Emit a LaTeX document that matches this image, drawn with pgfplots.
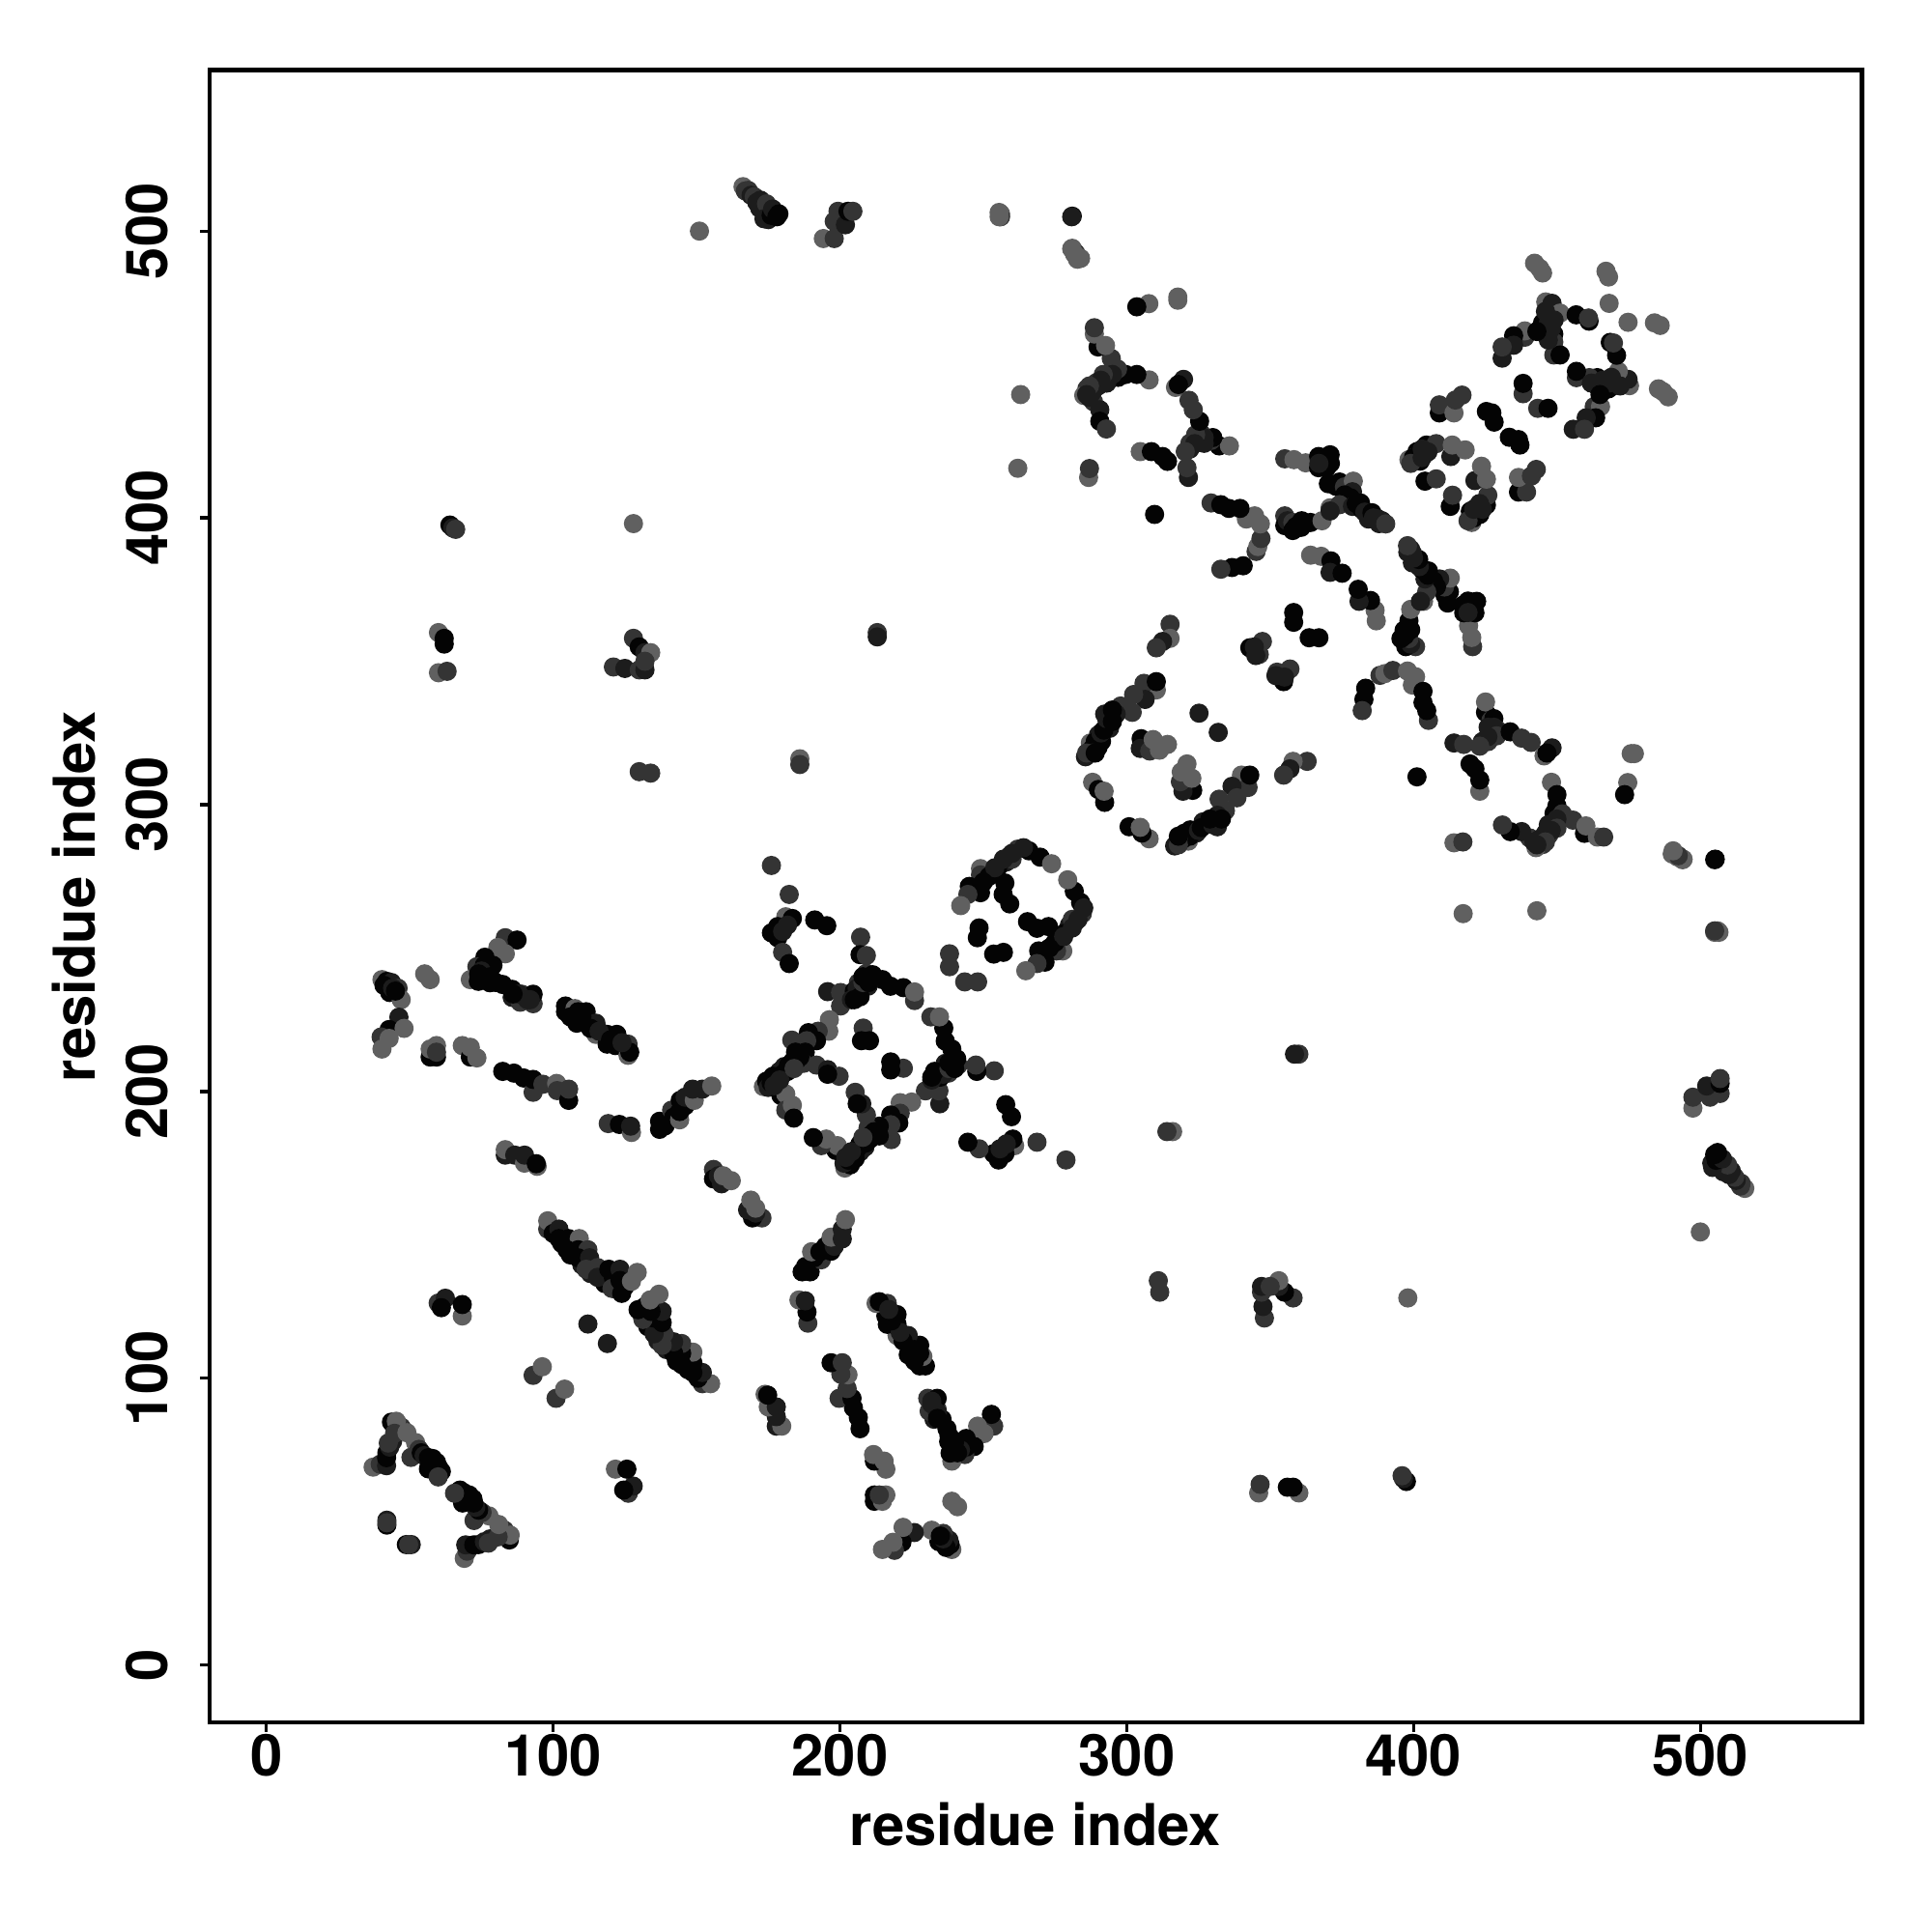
\documentclass[border=0pt]{standalone}
\usepackage{fontspec}
\setmainfont{TeX Gyre Heros}
\usepackage{pgfplots}
\usepackage{pgfplotstable}
\pgfplotsset{compat=1.18}
\pgfplotstableread[row sep=\\]{
i j c\\
40.3 239 3\\ 42 238.4 0\\ 43.6 238 1\\ 45.9 236 2\\ 43 234.5 0\\ 47 232 3\\ 46.2 225.9 1\\ 42.8 221.6 0\\ 48 222 3\\ 40 219 2\\ 42.8 218.5 3\\ 40.3 214.8 3\\
41 237 0\\ 44 236 1\\ 45 235 0\\
55.2 241 3\\ 57.1 239 3\\
83.3 253.6 2\\ 87.4 252.8 0\\ 80.7 250.2 3\\ 83.3 248 3\\ 76.2 246.8 0\\ 73.4 243.5 2\\ 79 244 0\\ 71.1 239 3\\ 73.9 238.4 0\\ 77.9 237.9 0\\ 82.4 237.3 0\\ 85.7 235.6 0\\ 89.1 233.9 2\\ 85.7 232.8 1\\ 88.5 231.1 2\\ 93 230.6 2\\ 93 233.9 0\\
76 244 0\\ 75 242 1\\ 78 240 0\\ 74 241 0\\ 80 238 0\\ 88 234 1\\ 91 232 1\\ 75 239 0\\ 92 232 1\\ 86 234 0\\
104.3 229.8 0\\ 104.3 227.8 0\\ 107.6 228.9 3\\ 108.7 227.8 0\\ 111.5 227.8 0\\ 108.2 223.8 0\\ 111.5 224.4 0\\ 114.9 223.8 1\\ 114.9 219.9 3\\ 118.8 219.9 0\\ 122.2 219.9 0\\ 118.8 216.5 0\\ 121.7 216 0\\ 126.1 212.6 3\\ 126.1 216.5 2\\ 126.7 213.7 0\\
106 226 0\\ 110 226 0\\ 113 222 0\\ 116 221 1\\ 120 218 0\\ 124 217 1\\
57.1 212 0\\ 59.3 212 0\\ 59.3 216 3\\ 57.1 214.8 3\\ 59.3 213.7 2\\
68.3 216 3\\ 71.1 212 0\\ 71.1 215.4 3\\ 73.4 211.7 3\\
82.4 207 0\\ 86.3 206.4 0\\ 89.7 204.7 0\\ 93 199.7 2\\ 93 204.2 0\\ 96.4 202.5 2\\ 101.2 202.8 3\\ 101.4 200.3 2\\ 105.4 196.9 0\\ 105.4 200.8 2\\
119.2 188.8 2\\ 123.1 188.5 0\\ 127.3 185.7 3\\ 127 187.9 1\\
137.1 186.8 0\\ 137.1 189.6 0\\ 139 188 0\\ 141.3 193.5 2\\ 142 191 0\\ 144.1 190.1 3\\ 144.1 193 0\\ 146 195 0\\ 144.3 196.9 0\\ 146 198 1\\ 149.2 196.9 3\\ 148.6 200.8 1\\ 152 200.8 1\\ 155.3 201.9 3\\
83.3 177.8 1\\ 83.3 179.7 3\\ 86.6 177.8 1\\ 90 175 3\\ 90 177.8 1\\ 94.4 173.9 3\\ 94.1 174.8 0\\
155.9 172.8 2\\ 155.9 169.5 0\\ 158.7 167.8 1\\ 157.6 170.6 1\\ 159.3 170.6 3\\ 162.1 168.9 3\\
98.1 152 2\\ 98.1 154.9 3\\ 100 150.5 0\\ 102 152 1\\ 102 148.7 0\\ 103 147 0\\ 105.4 148.7 0\\ 106 146 0\\ 106 143 0\\ 109.1 148.7 3\\ 104.8 144.8 0\\ 108.7 144.8 0\\ 110 141 0\\ 110 139.5 1\\ 112.1 144.8 2\\ 108.7 142 0\\ 112.7 142 1\\ 113 136.5 1\\ 117 136 0\\ 118 133 0\\ 111.5 138 2\\ 115.5 138.6 2\\ 115.5 135.2 1\\ 119.4 138 0\\ 121 135 0\\ 122 131 1\\ 123.3 138 1\\ 120.5 131.3 2\\ 125 132 0\\ 123.3 134.1 0\\ 123.9 129.6 0\\ 127.3 133.8 3\\ 129.3 136.9 3\\
112.1 118.9 1\\ 93 101 2\\ 96.2 104 3\\
37.2 69 3\\ 39.7 70 2\\ 41.9 69.5 1\\ 41.9 72.3 0\\ 42 74 0\\ 43 76 1\\ 44 78 1\\ 42.5 77.4 2\\ 43.6 84.7 0\\ 46 82 2\\ 47 83 2\\ 45.3 85 3\\ 44.7 80.8 2\\ 49 81 3\\ 52 77.6 3\\ 50.4 72.4 2\\ 53.2 75.2 2\\ 54 74 0\\ 55 73 1\\ 56.5 72.3 0\\ 57 70 0\\ 58 72 0\\ 60 69 0\\ 59.3 70.7 0\\ 56.5 68.4 0\\ 61 67.5 0\\ 59.9 65.6 2\\
42 48.8 0\\ 42 50.5 1\\ 42 49.6 2\\
59.9 126.2 2\\ 62.4 127.9 1\\ 61 124.6 0\\ 68.3 121.7 3\\ 68.3 125.7 0\\
176.1 278.8 2\\ 182.3 268.7 2\\ 181.1 260.9 3\\ 183.4 260.3 0\\ 178.3 257.5 0\\ 176.1 255.3 0\\ 181.7 258 1\\ 178.3 253.6 0\\ 180 255.8 1\\ 180 248.5 2\\ 182.3 244.6 0\\ 191.2 259.8 0\\ 195.4 257.8 0\\
207.2 253.8 2\\ 207 247.7 0\\ 209.2 247.4 2\\ 209.2 241.2 2\\ 206.4 237.9 2\\ 211.4 240.7 0\\ 214.8 239 0\\ 205.3 233.4 0\\ 207.5 235.6 2\\ 209.8 236.7 1\\ 217.6 236.7 0\\ 222.1 236.2 0\\ 226 231.7 2\\ 226 234.7 3\\ 195.7 234.8 1\\ 200.2 234.5 2\\ 200.2 229.8 2\\ 203 234 2\\
205 235 0\\ 206 236 1\\ 207 233 0\\ 208 238 2\\ 210 238 0\\ 204 232 1\\ 208 240 0\\ 205 232 0\\
196.3 225 3\\ 196.1 221 3\\ 192.4 221 2\\ 189 220.5 0\\ 191.8 217.7 0\\ 183.2 217.9 2\\ 188.4 217.7 2\\ 187.9 213.7 0\\ 184.5 213.7 0\\ 187.3 209.8 2\\ 191.8 209.2 2\\ 183.4 210.4 0\\ 180.6 208.7 1\\ 178.9 207 1\\ 181.7 207 0\\ 176.6 205.3 0\\ 173.3 201.7 3\\ 174.4 203.6 0\\ 177.8 204.2 1\\ 175 201.4 1\\ 179.4 198.6 0\\ 181.1 199.1 3\\ 181.1 193.5 2\\ 183.4 195.2 3\\ 183.9 190.7 0\\
176 203 0\\ 178 205 0\\ 180 206 0\\ 182 209 0\\ 185 211 0\\ 186 212 0\\ 179 204 1\\ 177 202 1\\ 184 208 2\\
195.7 207.6 1\\ 199.7 205.3 2\\ 195.7 206 0\\
208.1 222.1 2\\ 207.5 217.7 0\\ 210.3 217.7 0\\
262 284.5 2\\ 265.9 283.9 0\\ 269.8 281.7 0\\ 273.8 279.4 3\\ 259.2 282.2 2\\ 256.4 279.4 2\\ 253.5 276.6 0\\ 249 277.7 3\\ 249 275.5 2\\ 245.1 271.5 0\\ 249 269.3 0\\ 244.6 268.7 2\\ 242.1 264.8 3\\ 257.5 272.7 0\\ 256.9 268.7 0\\ 259.2 265.4 0\\
258 280 1\\ 260 281 2\\ 255 278 0\\ 257 281 1\\ 252 275 0\\ 254 278 1\\ 250 273 0\\ 264 285 1\\ 260 283 1\\
248.5 257 0\\ 247.9 253.6 0\\ 238.2 243.5 2\\ 238.2 248 2\\
315.1 362.9 2\\ 315.1 358 3\\ 312.5 356.9 1\\ 310.3 354.7 2\\
310.3 340 3\\ 306 342.3 2\\ 310.3 342.9 0\\ 306.4 336.7 1\\ 302.4 338.4 2\\ 301.9 332.2 2\\ 297.9 334.4 2\\ 296.3 331.6 1\\ 292.3 331.6 1\\ 293.5 328.3 1\\ 294 326.6 1\\ 291.2 322.1 0\\ 290.1 324.3 1\\ 287.3 321.5 3\\ 287.8 319.3 0\\ 285.6 316.7 1\\
289 322 0\\ 290 320 0\\ 291 325 1\\ 292 326 0\\ 293 330 1\\ 288 318 1\\ 295 329 0\\ 286 318 2\\ 295 333 0\\ 289 318 0\\
325.2 331.9 1\\
305 323 0\\ 304.7 319.6 1\\ 308 318.7 2\\ 309.2 322.7 3\\ 311.4 319 3\\ 314.2 321 3\\
288.1 307.8 3\\ 290.1 305.3 0\\ 292.3 300.8 0\\ 292.1 304.7 3\\
347.3 356.9 2\\ 342.9 354.7 0\\ 346.2 352.4 2\\ 345 352 1\\ 344.5 355 1\\
358.2 367 0\\ 358.2 363.6 0\\
383.3 340.6 0\\ 382.7 336.7 0\\ 382.1 332.8 2\\ 388.3 345.1 2\\ 390 345.7 3\\ 392.8 346.8 2\\ 397.9 346.6 3\\ 399.6 341.7 3\\ 400.7 344.6 3\\ 403.3 339.5 0\\ 403.3 335.6 0\\ 405.2 329.4 2\\ 404.6 332.8 0\\
414.1 321.5 1\\ 417.5 321 2\\ 401.2 309.7 0\\ 414.1 286.7 3\\ 417.2 287 2\\ 417.3 262 3\\ 443 263 3\\
442.2 488.8 3\\ 444 487 3\\ 445 485.4 3\\ 467.1 486 3\\ 468 484 3\\ 468.2 474.8 3\\
446.1 475.3 3\\ 448.3 474.8 1\\ 447.8 470.8 2\\ 451.1 471.4 3\\ 444.4 466.3 0\\ 446.6 466.9 0\\ 448.9 464.1 0\\ 448.9 461.3 2\\ 448.9 456.8 2\\ 451.1 456.8 0\\ 438.8 463 2\\ 438.8 465.2 3\\ 434.9 463.5 0\\ 434.9 460.2 1\\ 430.9 455.7 1\\ 430.9 459.6 2\\
445 468 0\\ 447 468 1\\ 446 464 0\\ 448 466 1\\ 447 462 1\\ 449 469 1\\ 446 472 1\\ 443 465 0\\
456.7 470.8 0\\ 461.2 468.6 0\\ 461 469.7 2\\
438.2 443.3 2\\ 438.2 446.9 0\\ 427.3 436.6 0\\ 425.4 437.1 0\\ 428.1 433.4 0\\
409 436.6 0\\ 409 439.4 2\\ 414.1 436.6 3\\ 414.6 441.1 2\\ 416.9 442.8 2\\
398.4 420.3 3\\ 401.2 423.1 0\\ 404.5 425.4 0\\ 402.3 419.8 0\\ 407.9 425.9 2\\ 413 421.4 1\\ 413.5 425.4 3\\ 418 423.7 3\\ 400 421 2\\
400 421 0\\ 402 422 0\\ 403 424 1\\ 405 423 1\\ 399 419 2\\ 403 421 1\\
404 412.8 0\\ 407.9 413.6 2\\
355.1 420.6 2\\ 358.3 420.3 3\\ 362.4 419.2 3\\ 366.9 421.4 0\\ 370.9 422 0\\ 366.9 417.5 0\\ 369.7 417.5 0\\ 368 420 0\\ 368 418 0\\ 371 419 0\\ 367 419 1\\ 370.3 411.9 0\\ 374.2 412.5 0\\ 373 411 0\\ 375.9 410.8 2\\ 378 411 2\\ 379 412.8 3\\ 378.7 409.1 1\\ 376 408 0\\ 378 407 0\\ 370.9 403.5 3\\ 374.2 404.6 2\\ 378.7 404 1\\ 380 405 0\\ 381.5 405.2 0\\ 382 403 0\\ 383 402 1\\ 384.3 399.6 1\\ 385.5 401.8 0\\ 386 400 1\\ 387.7 399.6 1\\ 388 398 1\\ 389 399 1\\ 390.3 397.9 2\\
355.1 400.7 2\\ 355.1 397.3 0\\ 356 399 1\\ 357.9 398.4 2\\ 357.9 395.6 0\\ 359 397 0\\ 361 399 0\\ 360.8 396.7 0\\ 364.1 398.4 0\\ 368.1 399 3\\ 370.9 402.4 1\\
364.1 387 3\\ 367.8 386.6 3\\ 371.2 385 0\\ 370.9 381 1\\ 375.1 380.7 0\\
425.1 332.2 0\\ 425.1 335.8 3\\ 427 329.4 2\\ 428 330 0\\ 429.3 326 2\\ 428 327 1\\ 427 325 1\\ 426 327 1\\ 429 324 2\\ 424 322 1\\ 426 322 2\\ 425.9 323.7 1\\ 423.1 320.4 2\\ 433.7 325.4 0\\ 437.7 323.2 2\\ 441 321.7 2\\ 445.5 317 3\\ 448.3 319.8 1\\ 446.5 318 0\\
419.7 314.2 0\\ 421.4 312.5 0\\ 423.1 304.7 3\\ 423.1 308.6 0\\
448.1 307.8 3\\ 450 303.5 0\\ 450 299.6 0\\ 449 297 0\\ 451.9 296.8 2\\ 455.6 294.6 2\\ 459.6 290 0\\ 460.1 292.6 3\\ 449.5 294.6 0\\ 450 295 1\\ 447 293 1\\ 450 291.8 2\\ 447.2 289.5 2\\ 445 286.1 2\\ 442.7 285 3\\ 440.5 288.4 2\\ 442 287 1\\ 444 288 1\\ 446 290 1\\ 448 291 1\\ 446 287 2\\ 443 286 1\\ 437.7 290.6 1\\ 433.7 290.6 0\\ 431 292.9 2\\ 464.1 288.7 3\\ 466.3 288.7 2\\
474.7 307.7 3\\ 473.6 303.5 0\\ 475.9 317.8 3\\ 477 317.8 3\\
490.2 282.8 3\\ 492 281.8 3\\ 493.8 280.8 3\\ 505 280.8 1\\ 505 255.5 3\\ 506.5 255.5 3\\
64 397.5 0\\ 65 396.5 1\\ 66 396 2\\ 60 360 3\\ 62 358 0\\ 62 356 0\\ 60 346 3\\ 63 346.5 2\\ 128 398 3\\
128 358 2\\ 130 355 0\\ 132 353 1\\ 134 353 3\\ 121 348 2\\ 125 347.5 1\\ 130 347 2\\ 132 347 1\\ 132 350 2\\ 130 311.5 2\\ 134 311 2\\ 186 316 3\\ 186 314 2\\ 213 360 2\\ 213 358.5 1\\
151 500 3\\ 166.2 515.5 3\\ 167 514 2\\ 168 514.2 2\\ 169 512.5 1\\ 170.1 512 2\\ 171 510 1\\ 172.3 510.8 1\\ 172 508 1\\ 174 507 1\\ 174.4 509.5 2\\ 173.5 504.3 1\\ 175 504 1\\ 176 505.5 0\\ 176.5 507.7 1\\ 178 505 0\\ 178.7 506 0\\
194.2 497.4 3\\ 198 497.4 2\\ 198 503.4 2\\ 199.3 506.9 2\\ 201.9 502.2 1\\ 202.8 506.9 0\\ 204.5 506.9 2\\
256 506 3\\ 256 505 2\\ 281 505.2 0\\ 281 494 3\\ 282.2 492.3 2\\ 283.9 490.5 3\\
}\contacts
\begin{document}
\begin{tikzpicture}
\useasboundingbox (-2.17cm,-2.17cm) rectangle (17.83cm,17.83cm);
\begin{axis}[
  scale only axis, width=17.1cm, height=17.1cm,
  xmin=-19.8, xmax=556.2, ymin=-20, ymax=556,
  xtick={0,100,...,500}, ytick={0,100,...,500},
  tick align=outside, major tick length=2.8pt,
  every tick/.style={black,line width=0.95pt},
  line width=1.42pt,
  xtick pos=lower, ytick pos=left,
  /pgf/number format/assume math mode=true,
  tick label style={font=\fontsize{17}{18}\selectfont\bfseries},
  xticklabel style={anchor=center,yshift=-0.24cm},
  yticklabel style={rotate=90,anchor=center,yshift=0.55cm},
  xlabel={\fontsize{17}{18}\selectfont\bfseries residue index},
  ylabel={\fontsize{17}{18}\selectfont\bfseries residue index},
  x label style={at={(axis description cs:0.5,0)},anchor=center,yshift=-1.06cm},
  y label style={at={(axis description cs:0,0.5)},anchor=center,yshift=1.40cm},
  colormap={contact}{rgb255(0cm)=(4,4,4); rgb255(1cm)=(28,28,28); rgb255(2cm)=(52,52,52); rgb255(3cm)=(96,96,96)},
  point meta min=0, point meta max=3,
  clip=false,
]
\addplot[scatter, only marks, mark=*, mark size=2.63pt, line width=0.4pt,
  scatter/use mapped color={draw=mapped color,fill=mapped color},
  point meta=\thisrow{c}] table[x=i,y=j]{\contacts};
\addplot[scatter, only marks, mark=*, mark size=2.63pt, line width=0.4pt,
  scatter/use mapped color={draw=mapped color,fill=mapped color},
  point meta=\thisrow{c}] table[x=j,y=i]{\contacts};
\end{axis}
\end{tikzpicture}
\end{document}
